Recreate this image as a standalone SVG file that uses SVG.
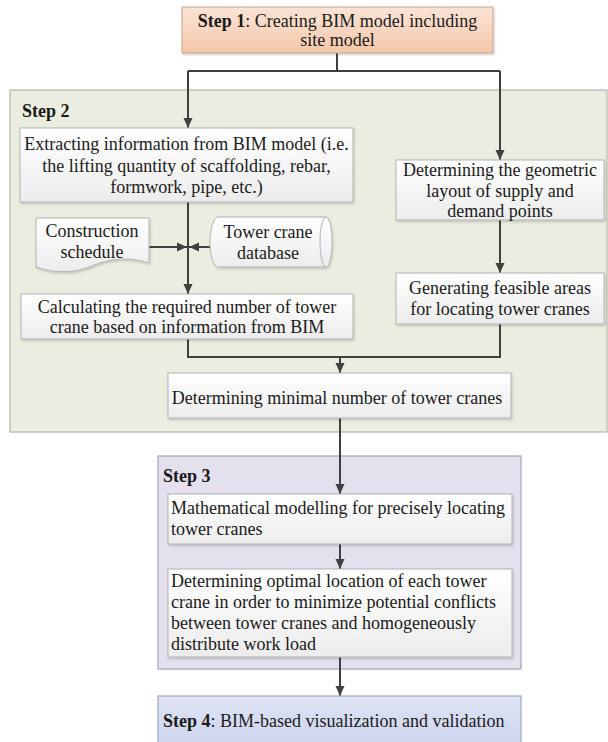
<svg xmlns="http://www.w3.org/2000/svg" width="608" height="742" viewBox="0 0 608 742">
<style>
text{font-family:"Liberation Serif","Times New Roman",serif;font-size:18px;fill:#1a1a1a}
.c{text-anchor:middle}
.b{font-weight:bold}
.box{fill:url(#gw);stroke:#b3b3b3;stroke-width:1;filter:url(#sh)}
.ln{fill:none;stroke:#404040;stroke-width:2}
.ar{fill:none;stroke:#404040;stroke-width:2;marker-end:url(#ah)}
</style>
<defs>
<linearGradient id="gw" x1="0" y1="0" x2="0" y2="1"><stop offset="0" stop-color="#ffffff"/><stop offset="1" stop-color="#ececec"/></linearGradient>
<linearGradient id="go" x1="0" y1="0" x2="0" y2="1"><stop offset="0" stop-color="#fbe4d6"/><stop offset="1" stop-color="#f5c7aa"/></linearGradient>
<linearGradient id="gb" x1="0" y1="0" x2="0" y2="1"><stop offset="0" stop-color="#dfe4f4"/><stop offset="1" stop-color="#c9d1ec"/></linearGradient>
<filter id="sh" x="-5%" y="-5%" width="112%" height="120%"><feDropShadow dx="1" dy="1.5" stdDeviation="1" flood-color="#000" flood-opacity="0.18"/></filter>
<marker id="ah" viewBox="0 0 10 10" refX="10" refY="5" markerWidth="10" markerHeight="10" markerUnits="userSpaceOnUse" orient="auto"><path d="M0,0.5 L10,5 L0,9.5 Z" fill="#404040"/></marker>
</defs>

<g id="step2-container"><rect x="10" y="90" width="597" height="342" fill="#eaeddf" stroke="#b2b6a6" stroke-width="1.2"/><text x="22" y="117" class="b">Step 2</text></g>
<g id="step3-container"><rect x="158" y="456" width="363" height="213" fill="#e4e0ee" stroke="#a8a2b6" stroke-width="1.2"/><text x="163" y="482" class="b">Step 3</text></g>

<g id="connectors">
<path class="ln" d="M337,53 V71 M188,71 H500"/>
<path class="ar" d="M188,71 V128"/>
<path class="ar" d="M500,71 V160"/>
<path class="ar" d="M188,202 V294"/>
<path class="ar" d="M149,247 H187"/>
<path class="ar" d="M210,247 H189"/>
<path class="ar" d="M500,220 V273"/>
<path class="ln" d="M188,339 V357 H500 V324"/>
<path class="ar" d="M340,357 V373"/>
<path class="ar" d="M340,418 V494"/>
<path class="ar" d="M340,544 V569"/>
<path class="ar" d="M340,657 V696"/>
</g>

<g id="step1"><rect x="182" y="7" width="311" height="46" fill="url(#go)" stroke="#c8a590" stroke-width="1" filter="url(#sh)"/>
<text x="337.5" y="27" class="c"><tspan class="b">Step 1</tspan>: Creating BIM model including</text>
<text x="337.5" y="46" class="c">site model</text></g>

<g id="extracting"><rect class="box" x="20" y="128" width="333" height="74"/>
<text x="186.5" y="150" class="c">Extracting information from BIM model (i.e.</text>
<text x="186.5" y="172" class="c">the lifting quantity of scaffolding,  rebar,</text>
<text x="186.5" y="193" class="c">formwork, pipe, etc.)</text></g>

<g id="geometric"><rect class="box" x="396" y="160" width="208" height="60"/>
<text x="500" y="176" class="c">Determining the geometric</text>
<text x="500" y="197" class="c">layout of supply and</text>
<text x="500" y="217" class="c">demand points</text></g>

<g id="schedule"><path d="M36,218 H149 V263 C127,256 108,259 92,266 C73,274 53,273 36,267 Z" fill="url(#gw)" stroke="#b3b3b3" stroke-width="1" filter="url(#sh)"/>
<text x="92" y="237" class="c">Construction</text>
<text x="92" y="258" class="c">schedule</text></g>

<g id="database"><path d="M218,217 H326 A6,25 0 0 1 326,267 H218 A8,25 0 0 1 218,217 Z" fill="url(#gw)" stroke="#b3b3b3" stroke-width="1" filter="url(#sh)"/>
<path d="M326,217 A6,25 0 0 0 326,267" fill="none" stroke="#b3b3b3" stroke-width="1"/>
<text x="268" y="238" class="c">Tower crane</text>
<text x="268" y="259" class="c">database</text></g>

<g id="calculating"><rect class="box" x="21" y="294" width="332" height="45"/>
<text x="187" y="313" class="c">Calculating the required number of tower</text>
<text x="187" y="333" class="c">crane based on information from BIM</text></g>

<g id="generating"><rect class="box" x="396" y="273" width="208" height="51"/>
<text x="500" y="294" class="c">Generating feasible areas</text>
<text x="500" y="315" class="c">for locating tower cranes</text></g>

<g id="minimal"><rect class="box" x="168" y="373" width="343" height="45"/>
<text x="337" y="404" class="c">Determining minimal number of tower cranes</text></g>

<g id="mathematical"><rect class="box" x="168" y="494" width="344" height="50"/>
<text x="171" y="514">Mathematical modelling for precisely locating</text>
<text x="171" y="535">tower cranes</text></g>

<g id="optimal"><rect class="box" x="168" y="569" width="344" height="88"/>
<text x="171" y="587">Determining optimal location of each tower</text>
<text x="171" y="608">crane in order to minimize potential conflicts</text>
<text x="171" y="629">between tower cranes and homogeneously</text>
<text x="171" y="650">distribute work load</text></g>

<g id="step4"><rect x="158" y="696" width="363" height="60" fill="url(#gb)" stroke="#9ea6c6" stroke-width="1.2"/>
<text x="163" y="727"><tspan class="b">Step 4</tspan>: BIM-based visualization and validation</text></g>
</svg>
